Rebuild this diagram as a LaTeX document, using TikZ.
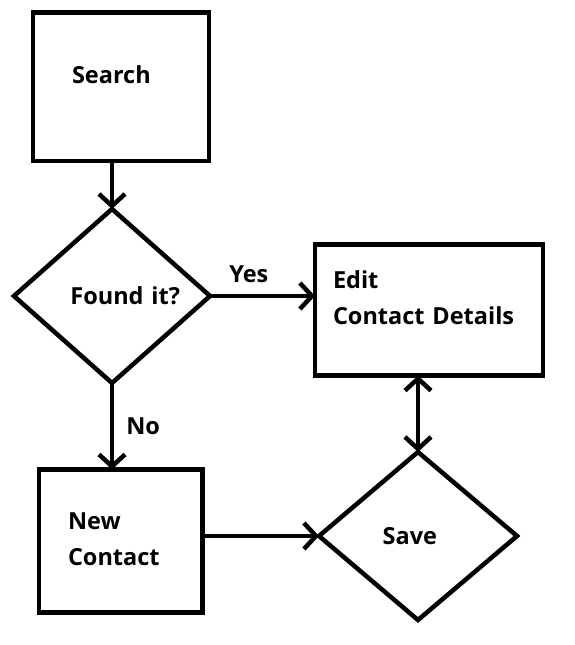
\documentclass[tikz,border=0pt]{standalone}
\usepackage{fontspec}
\setmainfont{Open Sans}
\usepackage{tikz}
\usetikzlibrary{positioning}
\usetikzlibrary{arrows.meta,shapes.geometric}
\tikzset{>={Straight Barb[length=12pt,width=26pt]}}
\tikzset{line/.style={draw, line width=4.5pt, ->}}

\begin{document}
\begin{tikzpicture}[x=1pt,y=-1pt,font=\fontsize{23.5}{36}\selectfont\bfseries]
\tikzstyle{block} = [rectangle, draw, line width=4.5pt, inner ysep=0pt, outer sep=0pt, align=left]
\tikzstyle{decision} = [diamond, draw, line width=4.5pt, inner sep=0pt, outer sep=0pt, text height=17pt, text depth=1pt]
\useasboundingbox (0,0) rectangle (574,645);

% blocks
    \node [decision, minimum width=196pt, minimum height=174pt, text width=136pt, align=right] (found) at (112,296) {Found it?};
    \node [block, above=48pt of found, xshift=9pt, inner xsep=39pt, text width=98pt, text height=70.5pt, text depth=78pt] (search) {Search};
    \node [block, right=105pt of found, yshift=-14pt, inner xsep=18pt, text width=192pt, text height=43.5pt, text depth=87.5pt] (edit) {Edit\\Contact Details};
    \node [block, below=86.5pt of found, xshift=8.75pt, inner xsep=29pt, text width=105.5pt, text height=59.5pt, text depth=83.5pt] (newc) {New\\Contact};
    \node [decision, below=76.5pt of edit, xshift=-11pt, minimum width=198pt, minimum height=168pt, text width=70.6pt, align=left] (save) {Save};
% arrows
    \path [line] (search.south -| found.north) -- (found.north);
    \path [line] (found.east) -- node[pos=0.37, above=9pt, inner sep=2pt]{Yes} (found.east -| edit.west);
    \path [line] (found.south) -- node[pos=0.5, right=10pt, inner sep=2pt]{No} (found.south |- newc.north);
    \path [line] (newc.east |- save.west) -- (save.west);
    \path [line, <->] (save.north) -- (save.north |- edit.south);

\end{tikzpicture}
\end{document}
